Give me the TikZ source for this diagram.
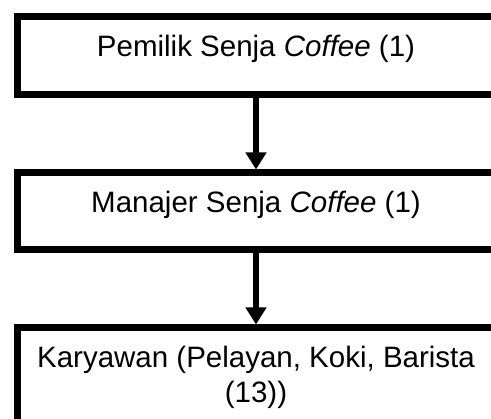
\documentclass[tikz,border=0pt]{standalone}
\usepackage{fontspec}
\setmainfont{Liberation Sans}
\usetikzlibrary{arrows.meta}
\tikzset{
  orgbox/.style={draw=black, line width=7pt, fill=white, minimum width=477pt, inner sep=0pt},
  orgtxt/.style={font=\fontsize{29.5}{35}\selectfont, align=center, inner sep=0pt, anchor=base},
  orgarrow/.style={line width=6pt, -{Triangle[width=20pt,length=17pt]}}
}
\begin{document}
\begin{tikzpicture}[x=1pt,y=1pt]
\useasboundingbox (0,0) rectangle (491,-419);
\clip (0,0) rectangle (491,-419);
\node[orgbox, minimum height=77.5pt] (b1) at (256,-55.75) {};
\node[orgbox, minimum height=77pt] (b2) at (256,-211.5) {};
\node[orgbox, minimum height=140pt] (b3) at (256,-398) {};
\node[orgtxt] (t1) at (256,-57) {Pemilik Senja \textit{Coffee} (1)};
\node[orgtxt] (t2) at (256,-213) {Manajer Senja \textit{Coffee} (1)};
\node[orgtxt, anchor=north] (t3) at (256,-345.5) {Karyawan (Pelayan, Koki, Barista\\(13))};
\draw[orgarrow] (b1.south) -- (b2.north);
\draw[orgarrow] (b2.south) -- (b3.north);
\end{tikzpicture}
\end{document}
